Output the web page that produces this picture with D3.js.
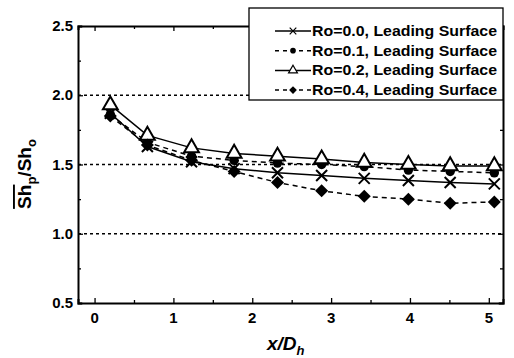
<!DOCTYPE html>
<html>
<head>
<meta charset="utf-8">
<script src="https://cdn.jsdelivr.net/npm/d3@7/dist/d3.min.js"></script>
<style>
  body { margin: 0; background: #fff; }
  svg text { font-family: "Liberation Sans", Arial, sans-serif; font-weight: bold; fill: #000; }
</style>
</head>
<body>
<div id="chart"></div>
<script>
// x/Dh stations
const xPos = [0.2, 0.67, 1.23, 1.77, 2.32, 2.88, 3.42, 3.98, 4.51, 5.07];
const ro00 = [1.87, 1.63, 1.52, 1.47, 1.44, 1.42, 1.40, 1.385, 1.37, 1.36];
const ro01 = [1.86, 1.66, 1.56, 1.53, 1.51, 1.50, 1.485, 1.46, 1.45, 1.44];
const ro02 = [1.93, 1.71, 1.62, 1.58, 1.56, 1.54, 1.515, 1.50, 1.49, 1.49];
const ro04 = [1.85, 1.64, 1.53, 1.45, 1.37, 1.31, 1.27, 1.25, 1.22, 1.23];
const seriesNames = ["Ro=0.0, Leading Surface", "Ro=0.1, Leading Surface",
                     "Ro=0.2, Leading Surface", "Ro=0.4, Leading Surface"];
const xTicks = [0, 1, 2, 3, 4, 5];
const yTicks = [0.5, 1.0, 1.5, 2.0, 2.5];
const gridValues = [1.0, 1.5, 2.0];

const width = 514, height = 358;
const margin = { top: 26, left: 78, right: 11, bottom: 55 };

const svg = d3.select("#chart").append("svg")
    .attr("width", width)
    .attr("height", height);

const x = d3.scaleLinear().domain([-0.21, 5.18]).range([margin.left, width - margin.right]);
const y = d3.scaleLinear().domain([0.5, 2.5]).range([height - margin.bottom, margin.top]);

// dashed gridlines
svg.append("g").selectAll("line")
    .data(gridValues)
    .enter().append("line")
    .attr("x1", x.range()[0]).attr("x2", x.range()[1])
    .attr("y1", d => y(d)).attr("y2", d => y(d))
    .attr("stroke", "#000").attr("stroke-width", 1.3)
    .attr("stroke-dasharray", "3,3");

// axes, ticks inward
const xMinor = d3.range(0, 5.01, 0.5);
const yMinor = d3.range(0.5, 2.51, 0.25);

svg.append("g")
    .attr("transform", `translate(0,${y.range()[0]})`)
    .call(d3.axisBottom(x).tickValues(xMinor).tickSize(-4).tickFormat(""))
    .call(g => g.selectAll(".tick line").attr("stroke-width", 1.3)
        .attr("y2", d => Number.isInteger(d) ? -5 : -3));
svg.append("g")
    .attr("transform", `translate(0,${y.range()[1]})`)
    .call(d3.axisTop(x).tickValues(xMinor).tickSize(-4).tickFormat(""))
    .call(g => g.selectAll(".tick line").attr("stroke-width", 1.3)
        .attr("y2", d => Number.isInteger(d) ? 5 : 3));
svg.append("g")
    .attr("transform", `translate(${x.range()[0]},0)`)
    .call(d3.axisLeft(y).tickValues(yMinor).tickSize(-4).tickFormat(""))
    .call(g => g.selectAll(".tick line").attr("stroke-width", 1.3)
        .attr("x2", d => Math.abs(d * 2 - Math.round(d * 2)) < 1e-6 ? 5 : 3));
svg.append("g")
    .attr("transform", `translate(${x.range()[1]},0)`)
    .call(d3.axisRight(y).tickValues(yMinor).tickSize(-4).tickFormat(""))
    .call(g => g.selectAll(".tick line").attr("stroke-width", 1.3)
        .attr("x2", d => Math.abs(d * 2 - Math.round(d * 2)) < 1e-6 ? -5 : -3));
svg.selectAll(".domain").attr("stroke", "#000").attr("stroke-width", 2);

// tick labels
svg.append("g").selectAll("text")
    .data(xTicks)
    .enter().append("text")
    .attr("x", d => x(d)).attr("y", y.range()[0] + 20)
    .attr("text-anchor", "middle")
    .style("font-size", "15px")
    .text(d => d);
svg.append("g").selectAll("text")
    .data(yTicks)
    .enter().append("text")
    .attr("x", x.range()[0] - 5).attr("y", d => y(d) + 5)
    .attr("text-anchor", "end")
    .style("font-size", "15px")
    .text(d => d.toFixed(1));

// axis titles
const xTitle = svg.append("text")
    .attr("x", 267).attr("y", 350)
    .style("font-size", "19px").style("font-style", "italic");
xTitle.append("tspan").text("x/D");
xTitle.append("tspan").attr("dy", 5).style("font-size", "13px").text("h");

const yTitle = svg.append("text")
    .attr("transform", "translate(31,174) rotate(-90)")
    .attr("text-anchor", "middle")
    .style("font-size", "19px");
yTitle.append("tspan").attr("text-decoration", "overline").text("Sh");
yTitle.append("tspan").attr("dy", 5).style("font-size", "13px").text("p");
yTitle.append("tspan").attr("dy", -5).text("/Sh");
yTitle.append("tspan").attr("dy", 5).style("font-size", "13px").text("o");

// series
const series = [
    { values: ro00, dash: null, marker: "cross" },
    { values: ro01, dash: "5,4", marker: "circle" },
    { values: ro02, dash: null, marker: "triangle" },
    { values: ro04, dash: "5,4", marker: "diamond" }
];

const line = d3.line().x(d => x(d[0])).y(d => y(d[1]));

function drawMarker(g, type, cx, cy) {
    if (type === "cross") {
        g.append("path")
            .attr("d", `M${cx - 5.5},${cy - 5.5}L${cx + 5.5},${cy + 5.5}M${cx - 5.5},${cy + 5.5}L${cx + 5.5},${cy - 5.5}`)
            .attr("stroke", "#000").attr("stroke-width", 2);
    } else if (type === "circle") {
        g.append("path")
            .attr("d", d3.symbol(d3.symbolCircle, 70)())
            .attr("transform", `translate(${cx},${cy})`)
            .attr("fill", "#000");
    } else if (type === "triangle") {
        g.append("path")
            .attr("d", d3.symbol(d3.symbolTriangle, 95)())
            .attr("transform", `translate(${cx},${cy})`)
            .attr("fill", "#fff").attr("stroke", "#000").attr("stroke-width", 2);
    } else if (type === "diamond") {
        g.append("path")
            .attr("d", `M${cx},${cy - 6.5}L${cx + 6.5},${cy}L${cx},${cy + 6.5}L${cx - 6.5},${cy}Z`)
            .attr("fill", "#000");
    }
}

series.forEach(s => {
    const pts = xPos.map((d, i) => [d, s.values[i]]);
    const g = svg.append("g");
    g.append("path")
        .attr("d", line(pts))
        .attr("fill", "none")
        .attr("stroke", "#000")
        .attr("stroke-width", 1.5)
        .attr("stroke-dasharray", s.dash);
    pts.forEach(p => drawMarker(g, s.marker, x(p[0]), y(p[1])));
});

// legend
const legend = svg.append("g");
legend.append("rect")
    .attr("x", 249).attr("y", 8).attr("width", 254).attr("height", 92)
    .attr("fill", "#fff").attr("stroke", "#000").attr("stroke-width", 1.3);
series.forEach((s, i) => {
    const ly = 31 + i * 19.7;
    legend.append("line")
        .attr("x1", 275).attr("x2", 311)
        .attr("y1", ly).attr("y2", ly)
        .attr("stroke", "#000").attr("stroke-width", 1.5)
        .attr("stroke-dasharray", s.dash ? "4,4" : null);
    const mg = legend.append("g").attr("transform", `translate(${293},${ly}) scale(0.6) translate(${-293},${-ly})`);
    drawMarker(mg, s.marker, 293, ly);
    legend.append("text")
        .attr("x", 312).attr("y", ly + 5)
        .attr("textLength", 185)
        .attr("lengthAdjust", "spacingAndGlyphs")
        .style("font-size", "14.5px")
        .text(seriesNames[i]);
});
</script>
</body>
</html>
